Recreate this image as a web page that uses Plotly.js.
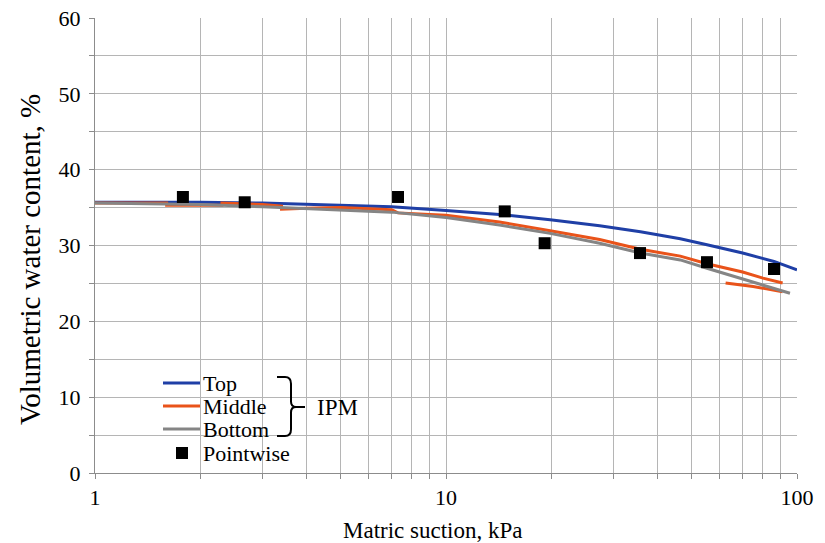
<!DOCTYPE html>
<html>
<head>
<meta charset="utf-8">
<script src="https://cdn.plot.ly/plotly-3.0.1.min.js"></script>
<style>html,body{margin:0;padding:0;background:#fff;}#chart{width:825px;height:543px;}</style>
</head>
<body>
<div id="chart"></div>
<script>
// Top (IPM)
const topX = [1, 1.5, 2, 3, 4, 5, 7, 10, 14.2, 19.8, 27.4, 35.8, 46.5, 55.4, 70, 86, 100];
const topY = [35.7, 35.7, 35.7, 35.6, 35.4, 35.3, 35.1, 34.6, 34.1, 33.4, 32.6, 31.8, 30.9, 30.1, 29.0, 27.9, 26.8];
// Middle (IPM)
const midX = [1, 1.6, 1.6, 2.3, 2.3, 3.0, 3.4, 3.4, 4.0, 5, 7, 7.3, 10, 14.2, 19.8, 27.4, 35.8, 46.5, 55.4, 70, 80, 91, null, 62.6, 75, 91];
const midY = [35.6, 35.6, 35.3, 35.3, 35.6, 35.4, 35.2, 34.8, 34.9, 35.0, 34.7, 34.3, 34.0, 33.1, 31.95, 30.8, 29.5, 28.6, 27.6, 26.5, 25.7, 25.05, null, 25.05, 24.6, 23.9];
// Bottom (IPM)
const botX = [1, 2, 3, 5, 7, 10, 14.2, 19.8, 27.4, 35.8, 46.5, 55.4, 70, 86, 95.5];
const botY = [35.6, 35.4, 35.1, 34.7, 34.4, 33.7, 32.7, 31.6, 30.3, 29.0, 28.1, 27.0, 25.6, 24.4, 23.7];
// Pointwise
const ptX = [1.78, 2.67, 7.3, 14.7, 19.1, 35.7, 55.4, 86];
const ptY = [36.4, 35.7, 36.4, 34.5, 30.3, 29.0, 27.8, 26.9];
// Series names, legend group label, axis titles
const names = ['Top', 'Middle', 'Bottom', 'Pointwise'];
const groupLabel = 'IPM';
const xTitle = 'Matric suction, kPa';
const yTitle = 'Volumetric water content, %';
const colors = ['#1F3FA6', '#E9531A', '#858585', '#000000'];
// Tick labels
const xTickVals = [1,2,3,4,5,6,7,8,9,10,20,30,40,50,60,70,80,90,100];
const xTickText = xTickVals.map(v => (v === 1 || v === 10 || v === 100) ? String(v) : '');
const yTickVals = [0,5,10,15,20,25,30,35,40,45,50,55,60];
const yTickText = yTickVals.map(v => v % 10 === 0 ? String(v) : '');

const font = 'Liberation Serif';

const traces = [
  {x: topX, y: topY, name: names[0], mode: 'lines', line: {color: colors[0], width: 3}},
  {x: midX, y: midY, name: names[1], mode: 'lines', line: {color: colors[1], width: 3}, connectgaps: false},
  {x: botX, y: botY, name: names[2], mode: 'lines', line: {color: colors[2], width: 3}},
  {x: ptX, y: ptY, name: names[3], mode: 'markers', marker: {symbol: 'square', color: colors[3], size: 12}}
];

const W = 702, H = 455;
const px = v => (v - 95) / W;
const py = v => (473 - v) / H;

// custom legend (decoration in paper coordinates)
const shapes = [];
const annotations = [];
shapes.push({type: 'rect', xref: 'paper', yref: 'paper', layer: 'between',
  x0: px(150), x1: px(352), y0: py(466), y1: py(371),
  fillcolor: '#fff', line: {width: 0}});
const rowsY = [383, 406, 429, 453];
for (let i = 0; i < 4; i++) {
  const yy = py(rowsY[i]);
  if (i < 3) {
    shapes.push({type: 'line', xref: 'paper', yref: 'paper', x0: px(163), x1: px(200), y0: yy, y1: yy,
      line: {color: colors[i], width: 3}});
  } else {
    shapes.push({type: 'rect', xref: 'paper', yref: 'paper', x0: px(176), x1: px(188), y0: py(rowsY[i] + 6), y1: py(rowsY[i] - 6),
      fillcolor: '#000', line: {width: 0}});
  }
  annotations.push({xref: 'paper', yref: 'paper', x: px(201), y: yy, xanchor: 'left', yanchor: 'middle',
    text: names[i], showarrow: false, font: {family: font, size: 22, color: '#000'}});
}
// brace
const braceX0 = px(277), braceXs = px(291), braceXm = px(305);
const yT = py(377), yM = py(407), yB = py(436);
const bracePath = `M ${braceX0},${yT} L ${px(285)},${yT} Q ${braceXs},${yT} ${braceXs},${yT - 0.015} L ${braceXs},${yM + 0.012} Q ${braceXs},${yM} ${px(296)},${yM} L ${braceXm},${yM} L ${px(296)},${yM} Q ${braceXs},${yM} ${braceXs},${yM - 0.012} L ${braceXs},${yB + 0.015} Q ${braceXs},${yB} ${px(285)},${yB} L ${braceX0},${yB}`;
shapes.push({type: 'path', xref: 'paper', yref: 'paper', path: bracePath, line: {color: '#000', width: 2}});
annotations.push({xref: 'paper', yref: 'paper', x: px(315), y: yM, xanchor: 'left', yanchor: 'middle',
  text: groupLabel, showarrow: false, font: {family: font, size: 23, color: '#000'}});
// axis titles
annotations.push({xref: 'paper', yref: 'paper', x: px(433), y: py(530), xanchor: 'center', yanchor: 'middle',
  text: xTitle, showarrow: false, font: {family: font, size: 23, color: '#000'}});
annotations.push({xref: 'paper', yref: 'paper', x: px(30), y: py(260), xanchor: 'center', yanchor: 'middle',
  text: yTitle, textangle: -90, showarrow: false, font: {family: font, size: 29, color: '#000'}});

const layout = {
  width: 825, height: 543,
  margin: {l: 95, r: 28, t: 18, b: 70},
  paper_bgcolor: '#fff', plot_bgcolor: '#fff',
  font: {family: font, size: 22, color: '#000'},
  showlegend: false,
  xaxis: {
    type: 'log', range: [0, 2],
    tickvals: xTickVals, ticktext: xTickText,
    showgrid: true, gridcolor: '#b5b5b5', gridwidth: 1,
    showline: true, linecolor: '#8c8c8c', linewidth: 1,
    ticks: 'outside', ticklen: 5, tickcolor: '#8c8c8c',
    zeroline: false,
    tickfont: {family: font, size: 22}
  },
  yaxis: {
    range: [0, 60],
    tickvals: yTickVals, ticktext: yTickText,
    showgrid: true, gridcolor: '#b5b5b5', gridwidth: 1,
    showline: true, linecolor: '#8c8c8c', linewidth: 1,
    ticks: 'outside', ticklen: 5, tickcolor: '#8c8c8c',
    zeroline: false,
    tickfont: {family: font, size: 22},
    ticklabelstandoff: 4
  },
  shapes: shapes,
  annotations: annotations
};

Plotly.newPlot('chart', traces, layout, {displayModeBar: false, staticPlot: true});
</script>
</body>
</html>
